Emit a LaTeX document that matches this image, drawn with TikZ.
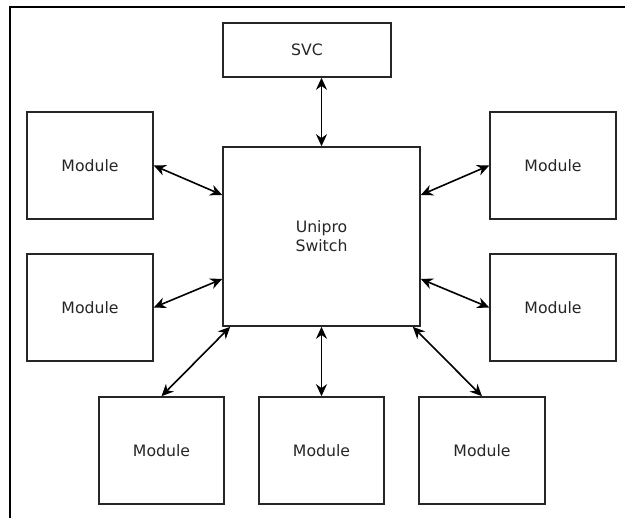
\documentclass[tikz,border=0pt]{standalone}
\usepackage{fontspec}
\setmainfont{DejaVu Sans}
\usetikzlibrary{arrows.meta}
\begin{document}
\begin{tikzpicture}[x=1pt,y=-1pt,
  box/.style={draw=black!85,line width=1.6pt,fill=white,inner sep=0pt,
    font=\fontsize{15.7}{19}\selectfont,text=black!85,align=center},
  link/.style={line width=1.6pt,{Stealth[length=12pt,width=11pt]}-{Stealth[length=12pt,width=11pt]}}]
\useasboundingbox (0,0) rectangle (625,518);
\fill[white] (0,0) rectangle (625,518);
\draw[line width=1.5pt] (10,518) -- (10,7) -- (625,7);
% boxes
\node[box,minimum width=168pt,minimum height=54pt] (svc) at (307,50) {SVC};
\node[box,minimum width=197pt,minimum height=179pt] (sw) at (321.5,236.5) {Unipro\\Switch};
\node[box,minimum width=126pt,minimum height=107pt] (l1) at (90,165.5) {Module};
\node[box,minimum width=126pt,minimum height=107pt] (l2) at (90,307.5) {Module};
\node[box,minimum width=126pt,minimum height=107pt] (r1) at (553,165.5) {Module};
\node[box,minimum width=126pt,minimum height=107pt] (r2) at (553,307.5) {Module};
\node[box,minimum width=125pt,minimum height=107pt] (b1) at (161.5,450.5) {Module};
\node[box,minimum width=125pt,minimum height=107pt] (b2) at (321.5,450.5) {Module};
\node[box,minimum width=126pt,minimum height=107pt] (b3) at (482,450.5) {Module};
% links
\draw[link] (sw.north |- svc.south) -- (sw.north);
\draw[link] (l1.east) -- ([yshift=41.5pt]sw.west);
\draw[link] (l2.east) -- ([yshift=-42.5pt]sw.west);
\draw[link] ([yshift=41.5pt]sw.east) -- (r1.west);
\draw[link] ([yshift=-42.5pt]sw.east) -- (r2.west);
\draw[link] ([xshift=8pt]sw.south west) -- (b1.north);
\draw[link] (sw.south) -- (b2.north);
\draw[link] ([xshift=-8pt]sw.south east) -- (b3.north);
\end{tikzpicture}
\end{document}
